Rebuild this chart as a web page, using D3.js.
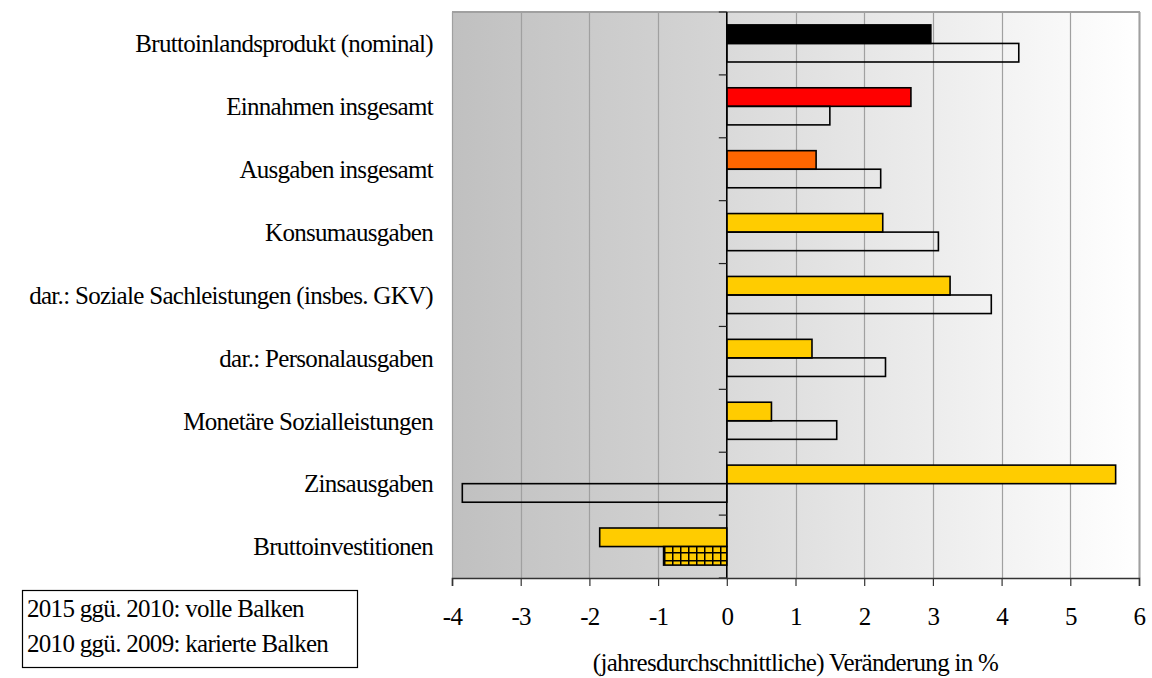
<!DOCTYPE html>
<html>
<head>
<meta charset="utf-8">
<script src="https://cdn.jsdelivr.net/npm/d3@7"></script>
<style>
  body { margin: 0; background: #fff; }
  svg text { font-family: "Liberation Serif", "Times New Roman", Times, "DejaVu Serif", serif; letter-spacing: -0.7px; }
</style>
</head>
<body>
<div id="chart"></div>
<script>
width = 1152
height = 678
margin = ({ top: 12, right: 13, bottom: 100, left: 452 })
fontSize = 25

// Daten
categories = ["Bruttoinlandsprodukt (nominal)", "Einnahmen insgesamt", "Ausgaben insgesamt",
  "Konsumausgaben", "dar.: Soziale Sachleistungen (insbes. GKV)", "dar.: Personalausgaben",
  "Monetäre Sozialleistungen", "Zinsausgaben", "Bruttoinvestitionen"]
change2015 = [2.97, 2.68, 1.30, 2.27, 3.25, 1.24, 0.65, 5.66, -1.85]
change2010 = [4.25, 1.50, 2.24, 3.08, 3.85, 2.31, 1.60, -3.85, -0.92]
barColors = ["#000000", "#ff0000", "#ff6600", "#ffcc00", "#ffcc00", "#ffcc00", "#ffcc00", "#ffcc00", "#ffcc00"]
checked = [false, false, false, false, false, false, false, false, true]
xTicks = [-4, -3, -2, -1, 0, 1, 2, 3, 4, 5, 6]
legendLines = ["2015 ggü. 2010: volle Balken", "2010 ggü. 2009: karierte Balken"]

x = d3.scaleLinear([-4, 6], [margin.left, width - margin.right])
y = d3.scaleBand(categories, [margin.top, height - margin.bottom])
    .paddingInner(0.41).paddingOuter(0.205)

const svg = d3.select("#chart").append("svg")
    .attr("width", width).attr("height", height)

const defs = svg.append("defs")
const gl = defs.append("linearGradient").attr("id", "bgLeft")
gl.append("stop").attr("offset", "0%").attr("stop-color", "#c0c0c0")
gl.append("stop").attr("offset", "100%").attr("stop-color", "#d5d5d5")
const gr = defs.append("linearGradient").attr("id", "bgRight")
gr.append("stop").attr("offset", "0%").attr("stop-color", "#dadada")
gr.append("stop").attr("offset", "100%").attr("stop-color", "#ffffff")
const pat = defs.append("pattern").attr("id", "check")
    .attr("patternUnits", "userSpaceOnUse").attr("width", 8).attr("height", 8)
pat.append("rect").attr("width", 8).attr("height", 8).attr("fill", "#ffcc00")
pat.append("path").attr("d", "M0,0.75H8M0.75,0V8").attr("stroke", "#000").attr("stroke-width", 1.5)

const plotBottom = height - margin.bottom

// Hintergrund
svg.append("rect")
    .attr("x", x(-4)).attr("y", margin.top)
    .attr("width", x(0) - x(-4)).attr("height", plotBottom - margin.top)
    .attr("fill", "url(#bgLeft)")
svg.append("rect")
    .attr("x", x(0)).attr("y", margin.top)
    .attr("width", x(6) - x(0)).attr("height", plotBottom - margin.top)
    .attr("fill", "url(#bgRight)")

// Gitterlinien
svg.append("g")
    .attr("stroke", "#a0a0a0")
    .attr("stroke-width", 1.2)
    .selectAll("line")
    .data(xTicks.filter(d => d !== 0))
    .join("line")
    .attr("x1", d => Math.round(x(d)) + 0.5)
    .attr("x2", d => Math.round(x(d)) + 0.5)
    .attr("y1", margin.top)
    .attr("y2", plotBottom)

svg.append("line")
    .attr("x1", x(-4)).attr("x2", x(6) + 1)
    .attr("y1", margin.top).attr("y2", margin.top)
    .attr("stroke", "#a0a0a0").attr("stroke-width", 2)
svg.append("line")
    .attr("x1", x(6) + 0.5).attr("x2", x(6) + 0.5)
    .attr("y1", margin.top).attr("y2", plotBottom)
    .attr("stroke", "#a0a0a0").attr("stroke-width", 2)

// Balken
const bh = y.bandwidth() / 2
const bars = svg.append("g").attr("stroke", "#000").attr("stroke-width", 1.6)

bars.selectAll("rect.a")
    .data(categories)
    .join("rect")
    .attr("class", "a")
    .attr("x", (d, i) => x(Math.min(0, change2015[i])))
    .attr("width", (d, i) => Math.abs(x(change2015[i]) - x(0)))
    .attr("y", d => y(d))
    .attr("height", bh)
    .attr("fill", (d, i) => barColors[i])

bars.selectAll("rect.b")
    .data(categories)
    .join("rect")
    .attr("class", "b")
    .attr("x", (d, i) => x(Math.min(0, change2010[i])))
    .attr("width", (d, i) => Math.abs(x(change2010[i]) - x(0)))
    .attr("y", d => y(d) + bh)
    .attr("height", bh)
    .attr("fill", (d, i) => checked[i] ? "url(#check)" : "none")

// Nulllinie mit Kategorie-Ticks
const zero = svg.append("g").attr("transform", `translate(${x(0)},0)`)
zero.append("line")
    .attr("y1", margin.top).attr("y2", plotBottom)
    .attr("stroke", "#000").attr("stroke-width", 1.6)
const step = y.step()
zero.selectAll("line.t")
    .data(d3.range(categories.length + 1))
    .join("line")
    .attr("class", "t")
    .attr("x1", -8).attr("x2", 0)
    .attr("y1", i => margin.top + i * step)
    .attr("y2", i => margin.top + i * step)
    .attr("stroke", "#222").attr("stroke-width", 1.2)

// Kategorie-Beschriftungen
svg.append("g")
    .selectAll("text")
    .data(categories)
    .join("text")
    .attr("x", 433)
    .attr("y", d => y(d) + y.bandwidth() / 2)
    .attr("dy", "0.35em")
    .attr("text-anchor", "end")
    .attr("font-size", fontSize)
    .attr("fill", "#000")
    .text(d => d)

// x-Achse
xAxis = g => g
    .attr("transform", `translate(0,${plotBottom})`)
    .call(d3.axisBottom(x).tickValues(xTicks).tickFormat(d => String(d)).tickSize(8).tickPadding(21))
    .call(g => g.select(".domain").attr("stroke", "#333").attr("stroke-width", 1.6))
    .call(g => g.selectAll(".tick line").attr("stroke", "#333").attr("stroke-width", 1.2))
    .call(g => g.selectAll(".tick text")
        .attr("font-size", fontSize)
        .attr("fill", "#000"))
    .call(g => g.append("text")
        .attr("x", x(1))
        .attr("y", 93)
        .attr("text-anchor", "middle")
        .attr("font-size", fontSize)
        .attr("fill", "#000")
        .text("(jahresdurchschnittliche) Veränderung in %"))

svg.append("g").call(xAxis)

// Legende
const legend = svg.append("g")
legend.append("rect")
    .attr("x", 22.5).attr("y", 590.5)
    .attr("width", 335).attr("height", 77)
    .attr("fill", "#fff").attr("stroke", "#000").attr("stroke-width", 1.2)
legend.selectAll("text")
    .data(legendLines)
    .join("text")
    .attr("x", 27)
    .attr("y", (d, i) => 617 + i * 35)
    .attr("font-size", fontSize)
    .attr("fill", "#000")
    .text(d => d)
</script>
</body>
</html>
